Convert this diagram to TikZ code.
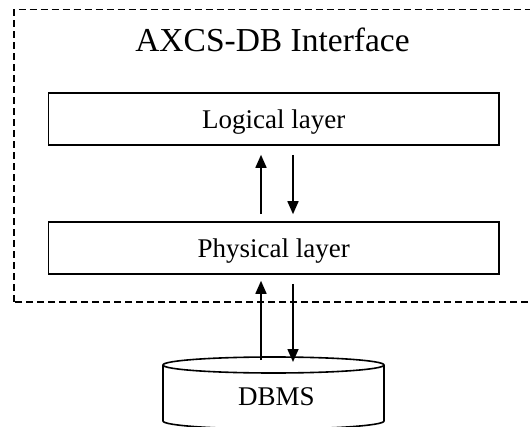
\documentclass[tikz,border=0pt]{standalone}
\usepackage{fontspec}
\setmainfont{Liberation Serif}
\usetikzlibrary{arrows.meta,calc}

\tikzset{
  layerbox/.style={draw, line width=1.6pt, minimum width=450.7pt, minimum height=52pt,
    inner sep=0pt, text height=20pt, text depth=0pt, font=\fontsize{27}{32}\selectfont},
  framebox/.style={draw, line width=1.4pt, dash pattern=on 7pt off 4pt},
  flow/.style={line width=1.6pt, -{Triangle[length=13pt,width=11pt]}},
  dbline/.style={line width=1.6pt},
  titletext/.style={anchor=base, inner sep=0pt, font=\fontsize{33.5}{40}\selectfont},
  dbtext/.style={anchor=base, inner sep=0pt, font=\fontsize{27}{32}\selectfont}
}

\begin{document}
\begin{tikzpicture}[x=1pt,y=1pt]
  \useasboundingbox (0,0) rectangle (530,426);
  \clip (0,0) rectangle (530,426);

  % dashed enclosure of the interface (runs past the right edge)
  \draw[framebox] (14,124) rectangle (545,416.5);
  \node[titletext] (title) at (272.5,374) {AXCS-DB Interface};

  % the two layers
  \node[layerbox] (logic) at (273.7,307) {Logical layer};
  \node[layerbox] (phys)  at (273.7,178) {Physical layer};

  % database cylinder
  \coordinate (dbtop) at (273.5,61);
  \draw[dbline] (163,61) -- (163,5) arc[start angle=180, end angle=360, x radius=110.5, y radius=8] -- (384,61);
  \draw[dbline] (dbtop) ellipse[x radius=110.5, y radius=8];
  \node[dbtext] (db) at (276.5,21) {DBMS};

  % requests and replies between the layers
  \draw[flow] ([xshift=-12.7pt,yshift=7pt]phys.north) -- ([xshift=-12.7pt,yshift=-9pt]logic.south);
  \draw[flow] ([xshift=19.3pt,yshift=-9pt]logic.south) -- ([xshift=19.3pt,yshift=7pt]phys.north);

  % requests and replies between the physical layer and the DBMS
  \draw[flow] ([xshift=-12.5pt,yshift=5pt]dbtop) -- ([xshift=-12.7pt,yshift=-6pt]phys.south);
  \draw[flow] ([xshift=19.3pt,yshift=-9pt]phys.south) -- ([xshift=19.5pt,yshift=3pt]dbtop);
\end{tikzpicture}
\end{document}
